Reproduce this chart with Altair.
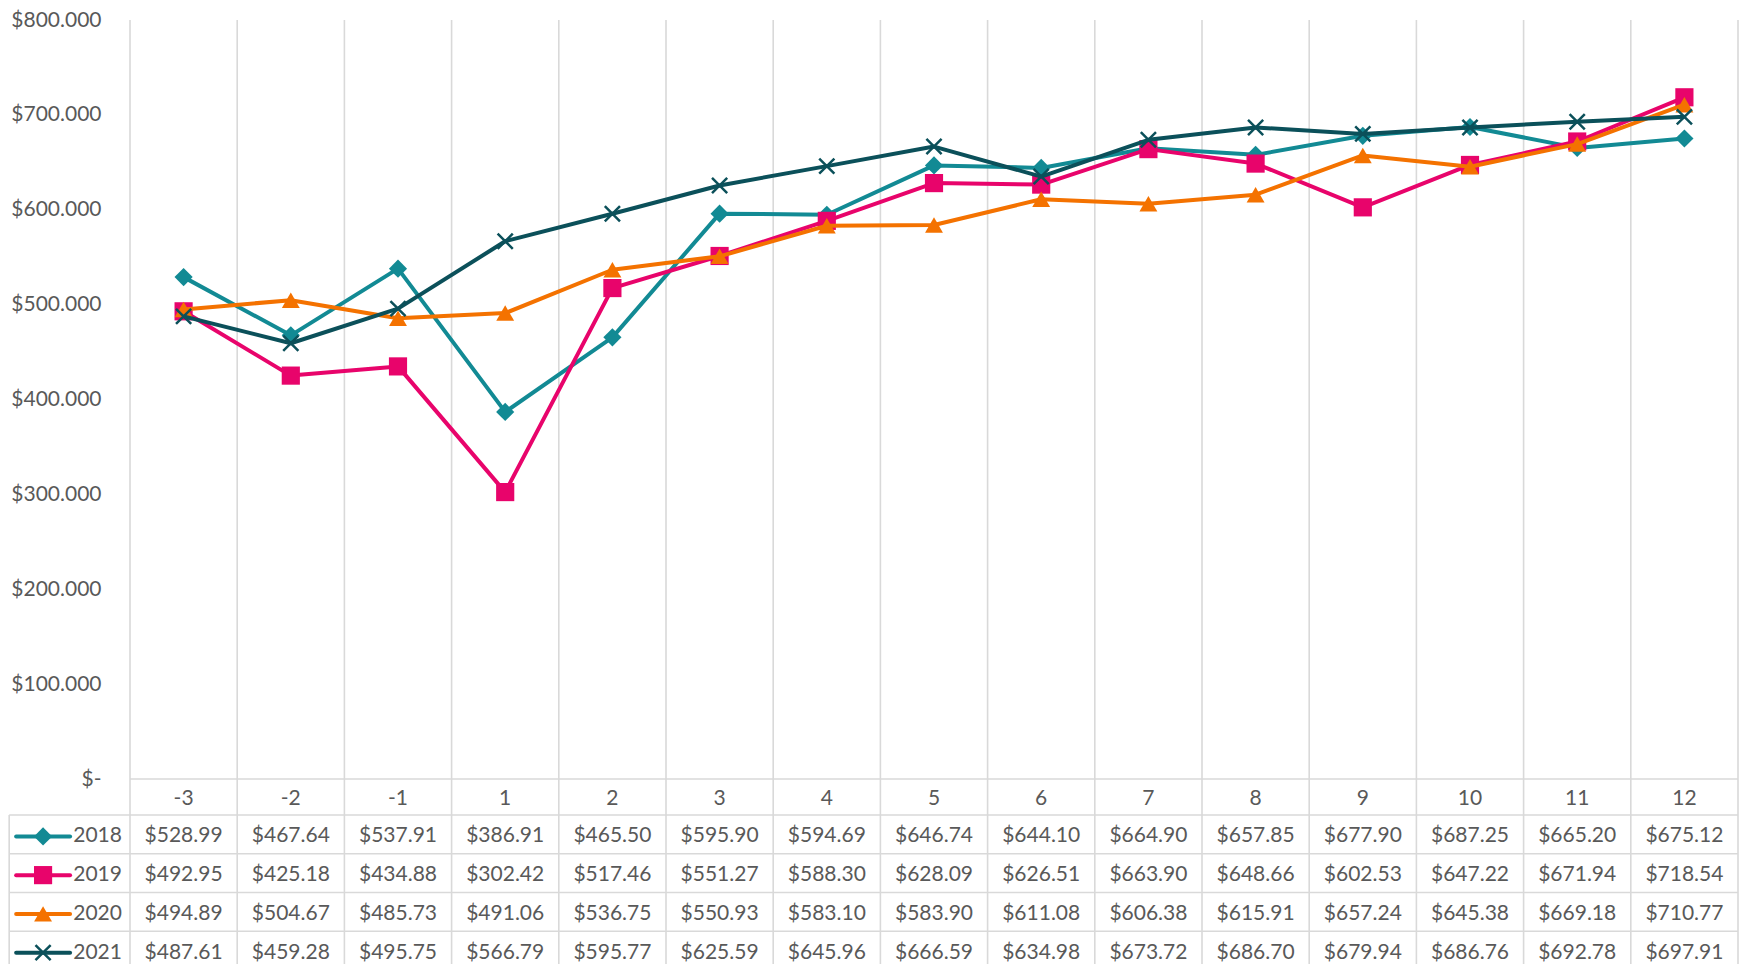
import altair as alt
import pandas as pd

# ---------------- data ----------------
categories = ["-3", "-2", "-1", "1", "2", "3", "4", "5", "6", "7", "8", "9", "10", "11", "12"]
series = ["2018", "2019", "2020", "2021"]
v2018 = [528.99, 467.64, 537.91, 386.91, 465.50, 595.90, 594.69, 646.74, 644.10, 664.90, 657.85, 677.90, 687.25, 665.20, 675.12]
v2019 = [492.95, 425.18, 434.88, 302.42, 517.46, 551.27, 588.30, 628.09, 626.51, 663.90, 648.66, 602.53, 647.22, 671.94, 718.54]
v2020 = [494.89, 504.67, 485.73, 491.06, 536.75, 550.93, 583.10, 583.90, 611.08, 606.38, 615.91, 657.24, 645.38, 669.18, 710.77]
v2021 = [487.61, 459.28, 495.75, 566.79, 595.77, 625.59, 645.96, 666.59, 634.98, 673.72, 686.70, 679.94, 686.76, 692.78, 697.91]
values = [v2018, v2019, v2020, v2021]
y_ticks = [0, 100, 200, 300, 400, 500, 600, 700, 800]

# ---------------- style ----------------
colors = ["#128a94", "#e8046b", "#f47200", "#0b505a"]
shapes = ["diamond", "square", "triangle-up", "M-1,-1L1,1M-1,1L1,-1"]
sizes = [330, 330, 320, 230]
FONT = "Lato"
TXT = "#595959"
GRID = "#d9d9d9"
FS = 21
LW = 4
W, H = 1608, 759
n = len(categories)

# legend column layout (in x-index units, left of the first category)
COL_LEFT = -1.627
SEG_A, SEG_B, MARK_X, LBL_X = -1.562, -1.059, -1.311, -0.575

X = alt.X("x:Q", scale=alt.Scale(domain=[-0.5, n - 0.5], nice=False, zero=False), axis=None)
X2 = alt.X2("x2:Q")
YV = alt.Y(
    "value:Q",
    scale=alt.Scale(domain=[0, 800], nice=False, zero=False),
    axis=alt.Axis(
        values=y_ticks, grid=False, domain=False, ticks=False, tickSize=0,
        labelPadding=29, labelFont=FONT, labelFontSize=FS, labelColor=TXT,
        labelExpr="datum.value == 0 ? '$-' : '$' + format(datum.value, '.3f')",
        labelBaseline="middle", title=None,
    ),
)
YR_SCALE = alt.Scale(domain=[-1, 0, 1, 5], range=[0, H, H + 36, H + 191], nice=False, zero=False)
YR = alt.Y("row:Q", scale=YR_SCALE, axis=None)
YR2 = alt.Y2("row2:Q")

# ---------------- table / grid layer ----------------
vlines = pd.DataFrame({"x": [i - 0.5 for i in range(n + 1)], "row": -1, "row2": 5.6})
leftline = pd.DataFrame({"x": [COL_LEFT], "row": [1], "row2": [5.6]})
hlines = pd.DataFrame({
    "x": [-0.5] + [COL_LEFT] * 5,
    "x2": [n - 0.5] * 6,
    "row": [0, 1, 2, 3, 4, 5],
})

grid_v = alt.Chart(pd.concat([vlines, leftline])).mark_rule(color=GRID, strokeWidth=1.6).encode(x=X, y=YR, y2=YR2)
grid_h = alt.Chart(hlines).mark_rule(color=GRID, strokeWidth=1.6).encode(x=X, x2=X2, y=YR)

DY = 2
hdr = pd.DataFrame({"x": list(range(n)), "label": categories, "row": 0.5})
header = alt.Chart(hdr).mark_text(font=FONT, fontSize=FS, color=TXT, baseline="middle", dy=DY).encode(
    x=X, y=YR, text="label:N")

cells = []
for k, (s, vals) in enumerate(zip(series, values)):
    for i, v in enumerate(vals):
        cells.append({"x": i, "row": k + 1.5, "value": v, "series": s})
cells = pd.DataFrame(cells)
cell_text = alt.Chart(cells).transform_calculate(
    label="'$' + format(datum.value, '.2f')"
).mark_text(font=FONT, fontSize=FS, color=TXT, baseline="middle", dy=DY).encode(x=X, y=YR, text="label:N")

leg_lbl = pd.DataFrame({"x": LBL_X, "row": [k + 1.5 for k in range(4)], "label": series})
legend_text = alt.Chart(leg_lbl).mark_text(font=FONT, fontSize=FS, color=TXT, baseline="middle", align="right", dy=DY).encode(
    x=X, y=YR, text="label:N")

legend_marks = []
for k, s in enumerate(series):
    seg = pd.DataFrame({"x": [SEG_A], "x2": [SEG_B], "row": [k + 1.5]})
    legend_marks.append(alt.Chart(seg).mark_rule(color=colors[k], strokeWidth=LW, strokeCap="round", yOffset=DY).encode(x=X, x2=X2, y=YR))
    pt = pd.DataFrame({"x": [MARK_X], "row": [k + 1.5]})
    if k < 3:
        legend_marks.append(alt.Chart(pt).mark_point(filled=True, shape=shapes[k], size=sizes[k], color=colors[k], opacity=1, yOffset=DY).encode(x=X, y=YR))
    else:
        legend_marks.append(alt.Chart(pt).mark_point(filled=False, shape=shapes[k], size=sizes[k], color=colors[k], strokeWidth=2.5, opacity=1, yOffset=DY).encode(x=X, y=YR))

table = alt.layer(grid_v, grid_h, header, cell_text, legend_text, *legend_marks)

# ---------------- series layer ----------------
series_layers = []
for k, (s, vals) in enumerate(zip(series, values)):
    d = pd.DataFrame({"x": list(range(n)), "value": vals, "series": s})
    base = alt.Chart(d)
    series_layers.append(base.mark_line(color=colors[k], strokeWidth=LW, strokeJoin="round").encode(x=X, y=YV))
    if k < 3:
        series_layers.append(base.mark_point(filled=True, shape=shapes[k], size=sizes[k], color=colors[k], opacity=1).encode(x=X, y=YV))
    else:
        series_layers.append(base.mark_point(filled=False, shape=shapes[k], size=sizes[k], color=colors[k], strokeWidth=2.5, opacity=1).encode(x=X, y=YV))

lines = alt.layer(*series_layers)

chart = alt.layer(table, lines).resolve_scale(y="independent").properties(
    width=W, height=H,
    autosize=alt.AutoSizeParams(type="none"),
    padding={"left": 122, "top": 12, "right": 2, "bottom": 185},
).configure_view(strokeWidth=0)

chart.save("out.html", embed_options={"renderer": "svg", "actions": False})
